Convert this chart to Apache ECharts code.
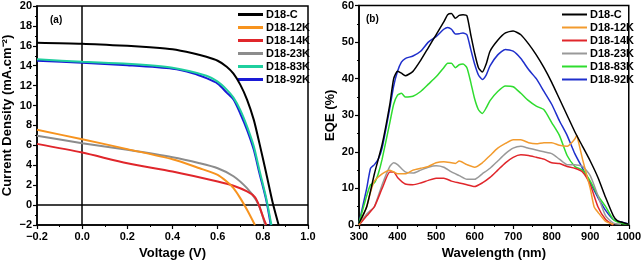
<!DOCTYPE html>
<html>
<head>
<meta charset="utf-8">
<script src="https://cdn.jsdelivr.net/npm/echarts@6/dist/echarts.min.js"></script>
<style>
html, body { margin: 0; padding: 0; background: #fff; }
#chart { width: 644px; height: 265px; }
</style>
</head>
<body>
<div id="chart"></div>
<script>
// series names
var names = ['D18-C', 'D18-12K', 'D18-14K', 'D18-23K', 'D18-83K', 'D18-92K'];

// (a) J-V curves: [voltage V, current density mA/cm2]
var jvC = [[-0.2,16.32],[0,16.22],[0.2,16.0],[0.3,15.85],[0.4,15.65],[0.49,15.25],[0.55,14.9],[0.6,14.5],[0.64,13.9],[0.67,13.2],[0.7,12.1],[0.73,10.6],[0.76,8.56],[0.785,6.2],[0.815,3.2],[0.844,0.2],[0.87,-2]];
var jv12K = [[-0.2,7.56],[0,6.62],[0.2,5.62],[0.4,4.6],[0.52,3.7],[0.6,3.04],[0.64,2.37],[0.67,1.7],[0.7,0.7],[0.73,-0.47],[0.765,-2]];
var jv14K = [[-0.2,6.15],[0,5.28],[0.2,4.2],[0.4,3.38],[0.6,2.37],[0.67,1.94],[0.73,1.37],[0.765,0.8],[0.785,-0.13],[0.8,-1.14],[0.815,-2]];
var jv23K = [[-0.2,6.96],[0,6.22],[0.2,5.55],[0.4,4.8],[0.52,4.2],[0.6,3.7],[0.67,2.9],[0.73,1.7],[0.77,0.5],[0.795,-0.8],[0.81,-2]];
var jv83K = [[-0.2,14.65],[0,14.4],[0.2,14.2],[0.4,13.8],[0.55,13.0],[0.6,12.4],[0.64,11.6],[0.67,10.8],[0.7,9.56],[0.73,7.9],[0.76,5.9],[0.785,3.5],[0.815,0.7],[0.838,-2]];
var jv92K = [[-0.2,14.5],[0,14.3],[0.2,14.05],[0.4,13.7],[0.49,13.25],[0.55,12.75],[0.6,12.2],[0.64,11.3],[0.67,10.6],[0.7,9.2],[0.73,7.56],[0.76,5.55],[0.785,3.2],[0.815,0.5],[0.835,-2]];

// (b) EQE spectra: [wavelength nm, EQE %]
var eqeC = [[300,0.5],[320,5],[340,14],[360,22],[380,33],[390,40],[400,42],[410,41.5],[420,40.8],[440,42],[460,45],[480,48.5],[500,52],[520,55.5],[530,57.5],[540,57.8],[550,56.5],[560,57.3],[570,57.5],[580,57.2],[590,52],[600,47],[610,43],[620,41.8],[630,44],[640,47.5],[660,50.5],[680,52.5],[700,53],[720,52],[740,49.5],[760,46.5],[780,43],[800,39],[820,34.5],[840,30],[860,25.5],[880,21.5],[900,17.5],[920,13],[940,7.5],[960,2.5],[970,1.2],[980,0.8],[1000,0.2]];
var eqe12K = [[300,0],[320,5],[330,9],[340,12],[360,14],[380,15],[400,14],[420,14],[440,15],[460,15.5],[480,16],[500,17],[520,17.3],[540,17],[550,16.8],[560,17.5],[580,16.5],[600,15.8],[620,17],[640,19],[660,21],[680,22.3],[700,23.3],[720,23.3],[740,22.5],[760,22.2],[780,22.5],[800,22.5],[820,21.8],[840,21.5],[860,23.5],[865,24.5],[870,22.5],[880,18],[890,14],[900,10],[910,5],[920,3.5],[940,1],[960,0.2]];
var eqe14K = [[300,0],[320,2.5],[340,5],[360,10],[380,14.5],[390,14.5],[400,13],[420,11.2],[440,11],[460,11.5],[480,12.2],[500,12.8],[520,12.8],[540,12],[560,11.5],[580,11],[600,10.5],[620,11.5],[640,13],[660,15],[680,17],[700,18.5],[720,19.2],[740,19],[760,18.5],[780,18],[800,17],[820,16.8],[840,16],[860,15.5],[880,14.5],[900,11],[920,5],[940,1.5],[960,0]];
var eqe23K = [[300,0],[320,3],[330,4],[340,5],[360,11],[380,16],[390,17],[400,16.5],[420,14.5],[440,14.2],[460,15],[480,15.8],[500,16.2],[520,15.8],[540,14.5],[560,13.5],[580,12.5],[600,12.5],[620,14],[640,15.5],[660,17.5],[680,19.5],[700,21],[720,21.5],[740,21],[760,20.5],[780,20],[800,19.5],[820,18],[840,16.5],[860,16.5],[880,16],[900,13.5],[920,8],[940,2.5],[960,0.5],[980,0.2]];
var eqe83K = [[300,0.5],[320,8],[330,11],[340,11.5],[350,14],[360,18],[380,28],[390,33],[400,35.5],[410,36],[420,35],[440,35.2],[460,36.5],[480,38.5],[500,40.5],[520,43],[530,44.2],[540,44.2],[550,43],[560,43.8],[570,44],[580,43],[590,39],[600,34.5],[610,31.5],[620,30.5],[630,32],[640,34],[660,36.5],[680,38],[700,37.8],[720,36],[740,34],[760,32.5],[780,31.5],[800,28],[820,24.5],[840,19],[860,16],[870,15.5],[880,15],[900,12],[920,8],[940,5],[960,1.5],[980,0.5],[1000,0.2]];
var eqe92K = [[300,0.5],[320,10],[330,15.5],[340,16.5],[350,18],[360,21],[380,32],[390,38],[400,42],[410,44.5],[420,45.5],[440,46.2],[460,47.5],[480,50],[500,51.5],[520,53.5],[530,54],[540,53.5],[550,52.2],[560,52.3],[570,52.5],[580,52],[590,48],[600,44],[610,41],[620,39.8],[630,41],[640,43.5],[660,46.5],[680,48],[700,47.5],[720,45.5],[740,42.5],[760,40],[780,36.5],[800,33],[820,28.5],[840,24.5],[860,19.5],[880,15.5],[900,11.5],[920,7.5],[940,4],[960,1.5],[980,0.8],[1000,0.3]];

var jvData = [jvC, jv12K, jv14K, jv23K, jv83K, jv92K];
var eqeData = [eqeC, eqe12K, eqe14K, eqe23K, eqe83K, eqe92K];

var colorsA = ['#000000', '#f7931e', '#e0262b', '#8c8c8c', '#1fcf9e', '#1a1ad6'];
var colorsB = ['#000000', '#f29b2e', '#e0262b', '#999999', '#2fdc2f', '#1f2fcc'];

var font = '"Liberation Sans", Arial, sans-serif';
var minus = function (s) { return String(s).replace('-', '\u2212'); };

function axisBase(extra) {
    var base = {
        type: 'value',
        nameLocation: 'middle',
        nameTextStyle: { fontFamily: font, fontWeight: 'bold', fontSize: 13, color: '#000' },
        axisLine: { show: true, onZero: false, lineStyle: { color: '#000', width: 1.5 } },
        axisTick: { show: true, inside: false, length: 4, lineStyle: { color: '#000', width: 1.2 } },
        minorTick: { show: true, splitNumber: 2, length: 2, lineStyle: { color: '#000', width: 1 } },
        axisLabel: { fontFamily: font, fontWeight: 'bold', fontSize: 11, color: '#000', margin: 6 },
        splitLine: { show: false }
    };
    for (var k in extra) base[k] = extra[k];
    return base;
}

function legendFor(colors, left, lw) {
    return {
        orient: 'vertical',
        left: left,
        top: 8,
        padding: 0,
        icon: 'rect',
        itemWidth: 25,
        itemHeight: lw,
        itemGap: 0,
        textStyle: { fontFamily: font, fontWeight: 'bold', fontSize: 11, lineHeight: 13, color: '#000', padding: [0, 0, 0, -2] },
        data: names.map(function (n, i) {
            return { name: n, itemStyle: { color: colors[i] } };
        })
    };
}

var series = [];
names.forEach(function (n, i) {
    series.push({
        name: n, type: 'line', xAxisIndex: 0, yAxisIndex: 0,
        symbol: 'none', smooth: 0.25, data: jvData[i],
        lineStyle: { color: colorsA[i], width: 2 }, itemStyle: { color: colorsA[i] },
        z: 10 - i
    });
});
names.forEach(function (n, i) {
    series.push({
        name: n, type: 'line', xAxisIndex: 1, yAxisIndex: 1,
        symbol: 'none', smooth: 0.2, data: eqeData[i],
        lineStyle: { color: colorsB[i], width: 1.5 }, itemStyle: { color: colorsB[i] },
        z: 10 - i
    });
});
// zero lines for panel (a)
series.push({
    type: 'line', xAxisIndex: 0, yAxisIndex: 0, data: [], silent: true,
    markLine: {
        symbol: 'none', silent: true, label: { show: false },
        lineStyle: { color: '#000', width: 1.5, type: 'solid' },
        data: [{ xAxis: 0 }, { yAxis: 0 }]
    }
});

var option = {
    animation: false,
    backgroundColor: '#fff',
    grid: [
        { left: 37, right: 336, top: 6, bottom: 40, show: true, borderColor: '#000', borderWidth: 1.5 },
        { left: 359, right: 11, top: 4, bottom: 39, show: true, borderColor: '#000', borderWidth: 1.5 }
    ],
    legend: [legendFor(colorsA, 238, 3), legendFor(colorsB, 562, 2)],
    graphic: [
        { type: 'text', left: 50, top: 15, style: { text: '(a)', font: 'bold 10px ' + font, fill: '#000' } },
        { type: 'text', left: 366, top: 14, style: { text: '(b)', font: 'bold 10px ' + font, fill: '#000' } }
    ],
    xAxis: [
        axisBase({
            gridIndex: 0, min: -0.2, max: 1.0, interval: 0.2, name: 'Voltage (V)', nameGap: 22,
            axisLabel: { fontFamily: font, fontWeight: 'bold', fontSize: 11, color: '#000', margin: 6,
                formatter: function (v) { return minus(v.toFixed(1)); } }
        }),
        axisBase({ gridIndex: 1, min: 300, max: 1000, interval: 100, name: 'Wavelength (nm)', nameGap: 22,
            axisLabel: { fontFamily: font, fontWeight: 'bold', fontSize: 11, color: '#000', margin: 6,
                formatter: function (v) { return String(v); } } })
    ],
    yAxis: [
        axisBase({
            gridIndex: 0, min: -2, max: 20, interval: 2, name: 'Current Density (mA.cm\u207B\u00B2)', nameGap: 23,
            axisLabel: { fontFamily: font, fontWeight: 'bold', fontSize: 11, color: '#000', margin: 5,
                formatter: function (v) { return minus(v); } }
        }),
        axisBase({ gridIndex: 1, min: 0, max: 60, interval: 10, name: 'EQE (%)', nameGap: 22,
            axisLabel: { fontFamily: font, fontWeight: 'bold', fontSize: 11, color: '#000', margin: 5 } })
    ],
    series: series
};

var myChart = echarts.init(document.getElementById('chart'));
myChart.setOption(option);
</script>
</body>
</html>
